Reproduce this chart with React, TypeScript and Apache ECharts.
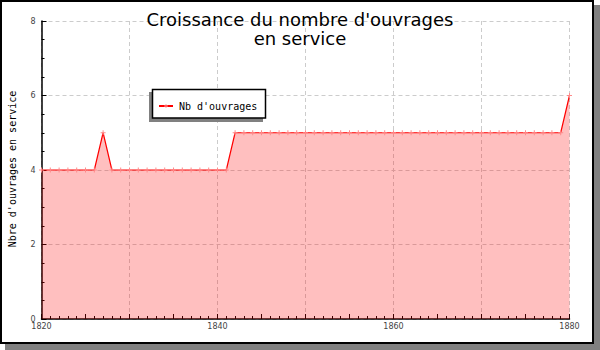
import React, { useEffect, useRef } from "react";
import * as echarts from "echarts";

const TITLE = "Croissance du nombre d'ouvrages\nen service";
const Y_NAME = "Nbre d'ouvrages en service";
const SERIES_NAME = "Nb d'ouvrages";

const years: number[] = [
  1820, 1821, 1822, 1823, 1824, 1825, 1826, 1827, 1828, 1829,
  1830, 1831, 1832, 1833, 1834, 1835, 1836, 1837, 1838, 1839,
  1840, 1841, 1842, 1843, 1844, 1845, 1846, 1847, 1848, 1849,
  1850, 1851, 1852, 1853, 1854, 1855, 1856, 1857, 1858, 1859,
  1860, 1861, 1862, 1863, 1864, 1865, 1866, 1867, 1868, 1869,
  1870, 1871, 1872, 1873, 1874, 1875, 1876, 1877, 1878, 1879,
  1880,
];

const ouvrages: number[] = [
  4, 4, 4, 4, 4, 4, 4, 5, 4, 4,
  4, 4, 4, 4, 4, 4, 4, 4, 4, 4,
  4, 4, 5, 5, 5, 5, 5, 5, 5, 5,
  5, 5, 5, 5, 5, 5, 5, 5, 5, 5,
  5, 5, 5, 5, 5, 5, 5, 5, 5, 5,
  5, 5, 5, 5, 5, 5, 5, 5, 5, 5,
  6,
];

const PLUS = "path://M2,0H3V2H5V3H3V5H2V3H0V2H2Z";

export default function App() {
  const ref = useRef<HTMLDivElement>(null);
  useEffect(() => {
    if (!ref.current) return;
    const chart = echarts.init(ref.current, undefined, { renderer: "svg" });
    const labelStyle = { fontFamily: "DejaVu Sans", fontSize: 8, color: "#444" };
    const gridLine = { lineStyle: { color: "#cccccc", type: [4, 3] as any, width: 1 } };
    chart.setOption({
      animation: false,
      backgroundColor: "transparent",
      title: {
        text: TITLE,
        left: "center",
        top: 10,
        padding: 0,
        textStyle: {
          fontFamily: "DejaVu Sans",
          fontSize: 18,
          fontWeight: "normal",
          color: "#000",
          lineHeight: 19,
        },
      },
      legend: {
        left: 158,
        top: 101,
        padding: 0,
        itemWidth: 14,
        itemHeight: 5,
        itemGap: 5,
        textStyle: { fontFamily: "DejaVu Sans Mono", fontSize: 10, color: "#000", padding: [0, 0, 0, 1] },
        data: [SERIES_NAME],
        z: 5,
      },
      grid: { left: 41.5, right: 30.5, top: 21, bottom: 31, containLabel: false },
      xAxis: [
        {
          type: "value",
          min: 1820,
          max: 1880,
          interval: 5,
          axisLine: { show: true, lineStyle: { color: "#000", width: 1.5 } },
          axisTick: { show: true, inside: true, length: 5, lineStyle: { color: "#000" } },
          minorTick: { show: true, splitNumber: 5, length: 3, lineStyle: { color: "#000" } },
          splitLine: { show: false },
          axisLabel: {
            ...labelStyle,
            margin: 3,
            formatter: (v: number) => (v % 20 === 0 ? String(v) : ""),
          },
        },
        {
          type: "value",
          min: 1820,
          max: 1880,
          interval: 10,
          position: "bottom",
          axisLine: { show: false },
          axisTick: { show: false },
          axisLabel: { show: false },
          splitLine: { show: true, ...gridLine },
        },
      ],
      yAxis: {
        type: "value",
        min: 0,
        max: 8,
        interval: 2,
        axisLine: { show: true, lineStyle: { color: "#000", width: 1.5 } },
        axisTick: { show: true, inside: true, length: 5, lineStyle: { color: "#000" } },
        minorTick: { show: true, splitNumber: 4, length: 3, lineStyle: { color: "#000" } },
        splitLine: { show: true, ...gridLine },
        axisLabel: { ...labelStyle, margin: 6 },
      },
      series: [
        {
          name: SERIES_NAME,
          type: "line",
          xAxisIndex: 0,
          data: years.map((y, i) => [y, ouvrages[i]]),
          showSymbol: true,
          symbol: PLUS,
          symbolSize: 5,
          itemStyle: { color: "#ff8a8a" },
          lineStyle: { color: "#ff0000", width: 1.2 },
          areaStyle: { color: "#ff0000", opacity: 0.25, origin: "start" },
          z: 2,
        },
      ],
      graphic: [
        { type: "rect", z: -10, silent: true, shape: { x: 5, y: 5, width: 595, height: 345 }, style: { fill: "#808080" } },
        { type: "rect", z: -9, silent: true, shape: { x: 1, y: 1, width: 592, height: 342 }, style: { fill: "#fff", stroke: "#000", lineWidth: 2 } },
        { type: "rect", z: 3, silent: true, shape: { x: 149, y: 92, width: 114, height: 30 }, style: { fill: "#808080" } },
        { type: "rect", z: 3, silent: true, shape: { x: 152.5, y: 89.5, width: 113, height: 28.5 }, style: { fill: "#fff", stroke: "#000", lineWidth: 1.5 } },
        {
          type: "text",
          z: 3,
          x: 12,
          y: 169,
          rotation: Math.PI / 2,
          silent: true,
          style: {
            text: Y_NAME,
            fill: "#000",
            font: "10px 'DejaVu Sans Mono'",
            align: "center",
            verticalAlign: "middle",
            textAlign: "center",
            textVerticalAlign: "middle",
          },
        },
      ],
    });
    return () => chart.dispose();
  }, []);
  return <div ref={ref} style={{ position: "absolute", left: 0, top: 0, width: 600, height: 350 }} />;
}
